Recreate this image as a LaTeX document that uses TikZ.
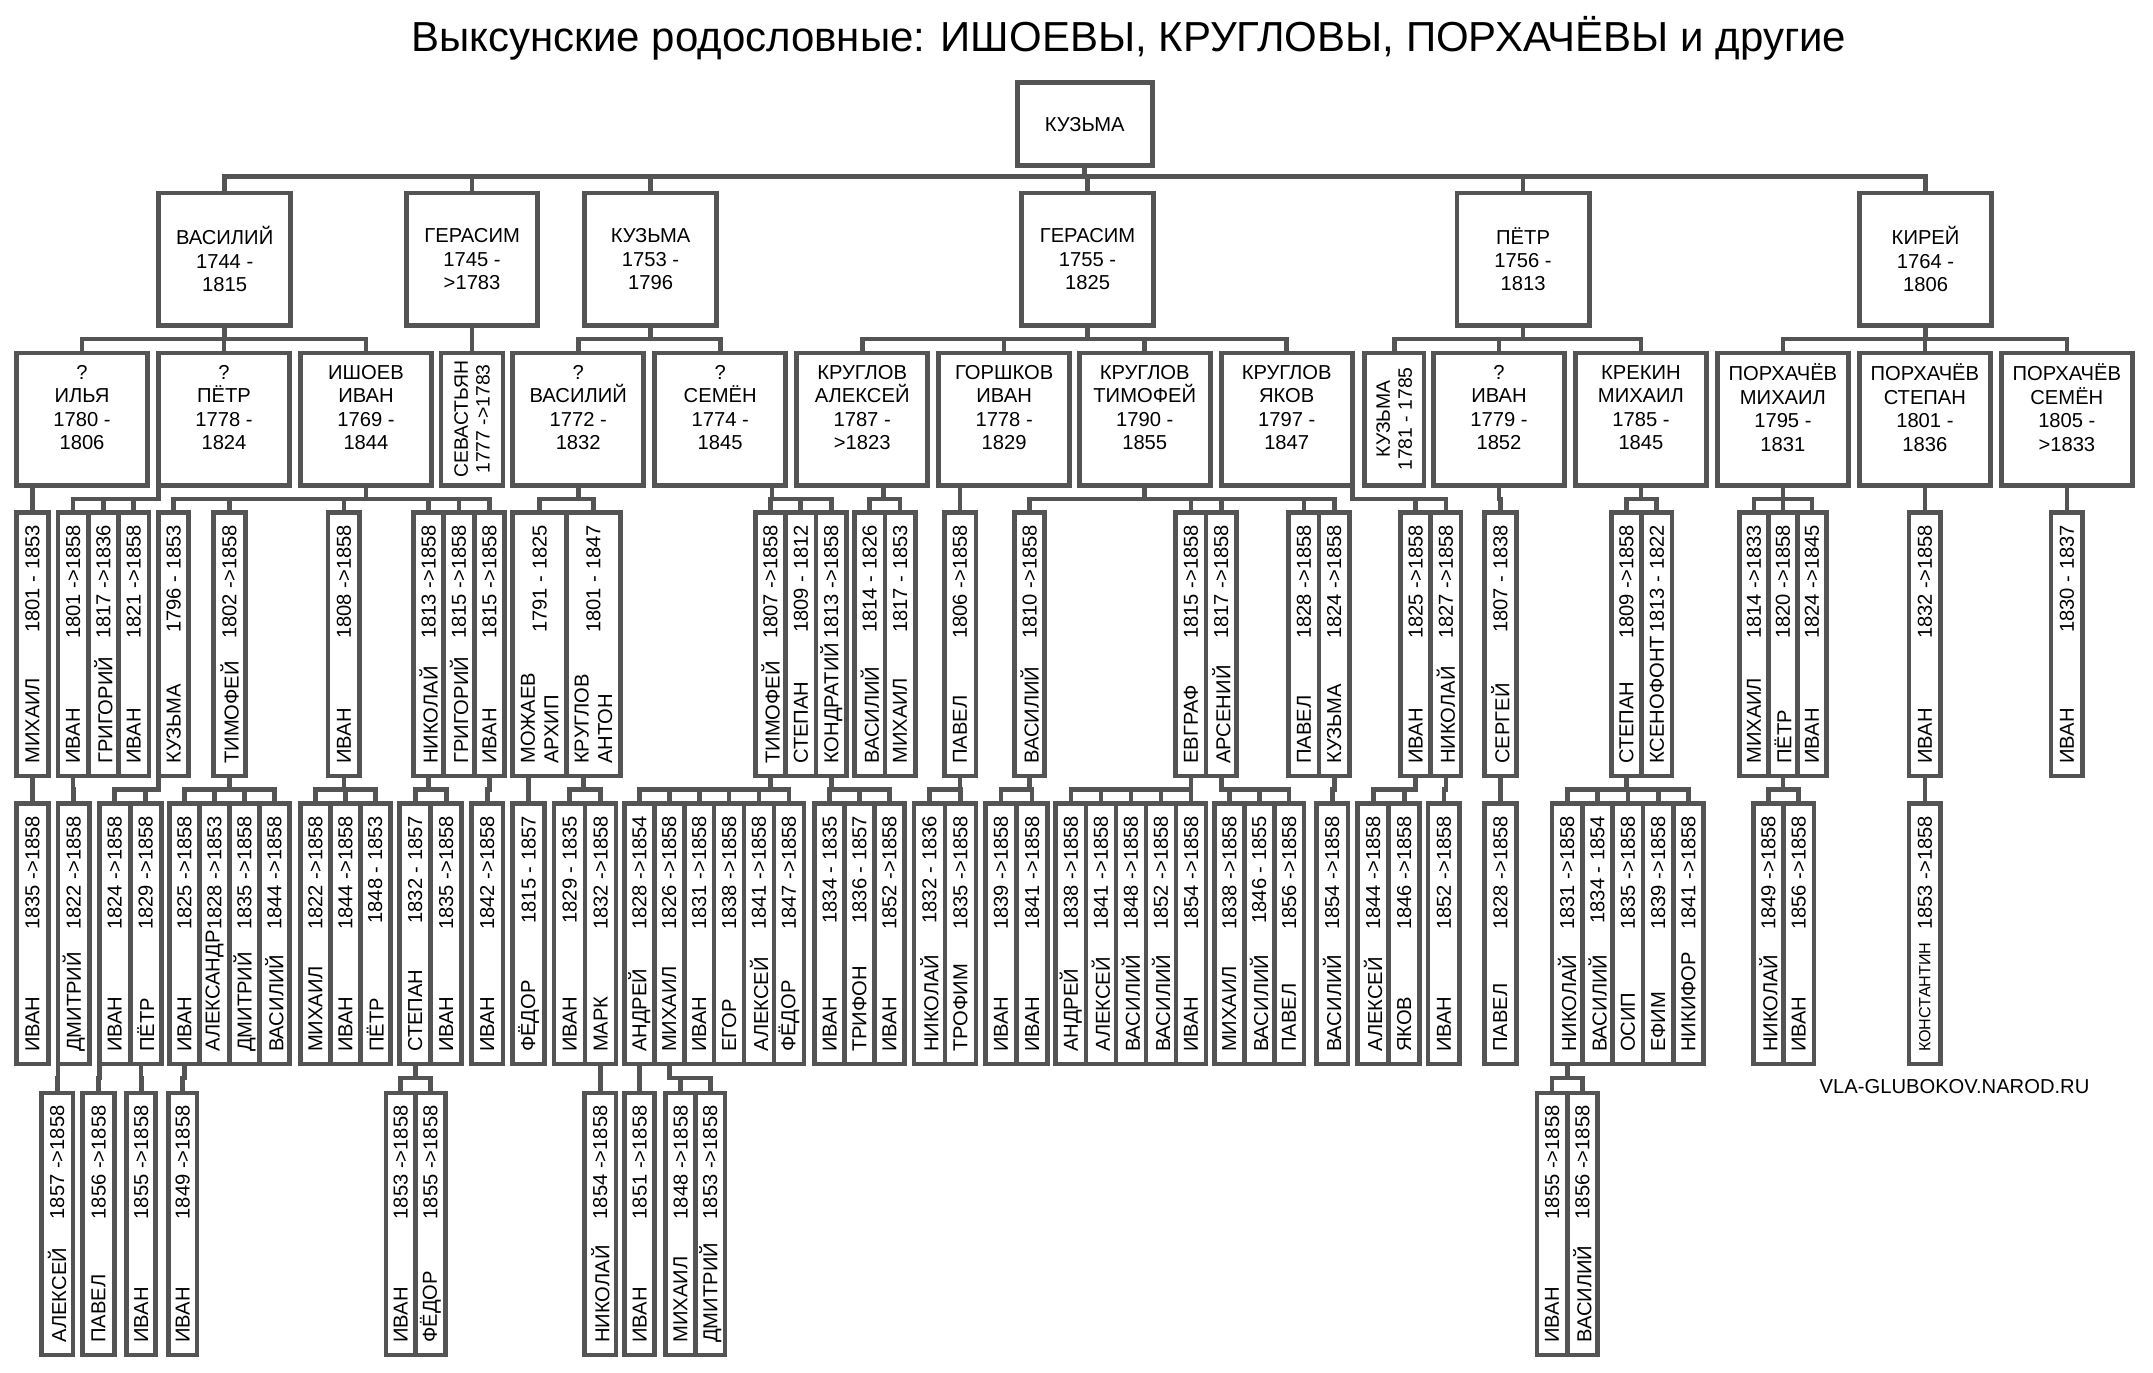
\documentclass[tikz,border=0pt]{standalone}
\usepackage{fontspec}
\setmainfont{Liberation Sans}
\definecolor{lc}{gray}{0.33}
\newcommand{\fs}{\fontsize{12.5}{14.5}\selectfont}

% one column of a generation: name, x, y, height style, width, label, dates
\newcommand{\col}[7]{%
  \node[cbox, #4, minimum width=#5*0.03cm, anchor=north west] (#1) at (#2,#3) {};
  \node[ctext, rotate=90, anchor=west] at ([yshift=0.26cm]#1.south) {#6};
  \node[ctext, rotate=90, anchor=east] at ([yshift=-0.26cm]#1.north) {#7};}
\newcommand{\grp}[6]{%
  \foreach \l/\d [count=\i] in {#6}{
    \pgfmathsetmacro{\xx}{#2+(\i-1)*#5}
    \col{#1\i}{\xx}{#3}{#4}{#5}{\l}{\d}}}
\newcommand{\pers}[7]{%
  \node[cbox, minimum width=#4*0.03cm, minimum height=#5*0.03cm, anchor=north west] (#1) at (#2,#3) {};
  \node[ctext, align=center] at ([yshift=#7]#1.center) {#6};}
\newcommand{\kids}[4]{%
  \foreach \c in {#4}{\draw[ln] (#1.south) ++(#2,0) -- ++(0,#3) -| (\c.north);}}

\tikzset{
  ln/.style={draw=lc, line width=2.9pt, line cap=rect},
  cbox/.style={draw=lc, line width=2.9pt, fill=white, inner sep=0pt, outer sep=0pt},
  ctext/.style={font=\fs, inner sep=0pt, align=left},
  L3/.style={minimum height=5.73cm},
  L4/.style={minimum height=5.67cm},
  L5/.style={minimum height=5.7cm}
}

\begin{document}
\begin{tikzpicture}[x=0.03cm, y=-0.03cm]
  \useasboundingbox (0,0) rectangle (1562,996);

  \node[font=\fontsize{26}{26}\selectfont] (title) at (819,28)
    {Выксунские родословные: ИШОЕВЫ, КРУГЛОВЫ, ПОРХАЧЁВЫ и другие};
  \node[font=\fontsize{12.5}{12.5}\selectfont] (site) at (1418,788) {VLA-GLUBOKOV.NAROD.RU};

  % root and first generations
  \pers{root}{738}{60}{98}{60}{КУЗЬМА}{0cm}
  \pers{gen1a}{115}{140}{96}{96}{ВАСИЛИЙ\\1744 -\\1815}{0cm}
  \pers{gen1b}{295}{140}{95}{96}{ГЕРАСИМ\\1745 -\\>1783}{0cm}
  \pers{gen1c}{424}{140}{96}{96}{КУЗЬМА\\1753 -\\1796}{0cm}
  \pers{gen1d}{741}{140}{96}{96}{ГЕРАСИМ\\1755 -\\1825}{0cm}
  \pers{gen1e}{1057}{140}{96}{96}{ПЁТР\\1756 -\\1813}{0cm}
  \pers{gen1f}{1349}{140}{96}{96}{КИРЕЙ\\1764 -\\1806}{0cm}

  \pers{gen2a}{12}{256}{95}{96}{?\\ИЛЬЯ\\1780 -\\1806}{0.25cm}
  \pers{gen2b}{115}{256}{95}{96}{?\\ПЁТР\\1778 -\\1824}{0.25cm}
  \pers{gen2c}{218}{256}{95}{96}{ИШОЕВ\\ИВАН\\1769 -\\1844}{0.25cm}
  \node[cbox, minimum width=45*0.03cm, minimum height=2.88cm, anchor=north west] (gen2d) at (320,256) {};
  \node[ctext, rotate=90, align=center, font=\fontsize{12}{13.5}\selectfont] at (gen2d) {СЕВАСТЬЯН\\1777 ->1783};
  \pers{gen2e}{372}{256}{95}{96}{?\\ВАСИЛИЙ\\1772 -\\1832}{0.25cm}
  \pers{gen2f}{475}{256}{95}{96}{?\\СЕМЁН\\1774 -\\1845}{0.25cm}
  \pers{gen2g}{578}{256}{95}{96}{КРУГЛОВ\\АЛЕКСЕЙ\\1787 -\\>1823}{0.25cm}
  \pers{gen2h}{681}{256}{95}{96}{ГОРШКОВ\\ИВАН\\1778 -\\1829}{0.25cm}
  \pers{gen2i}{783}{256}{95}{96}{КРУГЛОВ\\ТИМОФЕЙ\\1790 -\\1855}{0.25cm}
  \pers{gen2j}{886}{256}{95}{96}{КРУГЛОВ\\ЯКОВ\\1797 -\\1847}{0.25cm}
  \node[cbox, minimum width=43*0.03cm, minimum height=2.88cm, anchor=north west] (gen2k) at (990,256) {};
  \node[ctext, rotate=90, align=center, font=\fontsize{12}{13.5}\selectfont] at (gen2k) {КУЗЬМА\\1781 - 1785};
  \pers{gen2l}{1040}{256}{95}{96}{?\\ИВАН\\1779 -\\1852}{0.25cm}
  \pers{gen2m}{1143}{256}{95}{96}{КРЕКИН\\МИХАИЛ\\1785 -\\1845}{0.25cm}
  \pers{gen2n}{1246}{256}{95}{96}{ПОРХАЧЁВ\\МИХАИЛ\\1795 -\\1831}{0.25cm}
  \pers{gen2o}{1349}{256}{95}{96}{ПОРХАЧЁВ\\СТЕПАН\\1801 -\\1836}{0.25cm}
  \pers{gen2p}{1452}{256}{95}{96}{ПОРХАЧЁВ\\СЕМЁН\\1805 -\\>1833}{0.25cm}

  % third generation
  \grp{a}{12}{372}{L3}{23}{МИХАИЛ/1801 - 1853}
  \grp{b}{42}{372}{L3}{22}{ИВАН/1801 ->1858, ГРИГОРИЙ/1817 ->1836, ИВАН/1821 ->1858}
  \grp{c}{115}{372}{L3}{22}{КУЗЬМА/1796 - 1853}
  \grp{d}{155}{372}{L3}{23}{ТИМОФЕЙ/1802 ->1858}
  \grp{e}{238}{372}{L3}{23}{ИВАН/1808 ->1858}
  \grp{f}{300}{372}{L3}{22}{НИКОЛАЙ/1813 ->1858, ГРИГОРИЙ/1815 ->1858, ИВАН/1815 ->1858}
  \grp{g}{372}{372}{L3}{39}{{МОЖАЕВ\\АРХИП}/1791 - 1825, {КРУГЛОВ\\АНТОН}/1801 - 1847}
  \grp{h}{548}{372}{L3}{22}{ТИМОФЕЙ/1807 ->1858, СТЕПАН/1809 - 1812, КОНДРАТИЙ/1813 ->1858}
  \grp{i}{620}{372}{L3}{22}{ВАСИЛИЙ/1814 - 1826, МИХАИЛ/1817 - 1853}
  \grp{j}{685}{372}{L3}{23}{ПАВЕЛ/1806 ->1858}
  \grp{k}{736}{372}{L3}{22}{ВАСИЛИЙ/1810 ->1858}
  \grp{l}{853}{372}{L3}{22}{ЕВГРАФ/1815 ->1858, АРСЕНИЙ/1817 ->1858}
  \grp{m}{935}{372}{L3}{22}{ПАВЕЛ/1828 ->1858, КУЗЬМА/1824 ->1858}
  \grp{n}{1016}{372}{L3}{22}{ИВАН/1825 ->1858, НИКОЛАЙ/1827 ->1858}
  \grp{o}{1077}{372}{L3}{23}{СЕРГЕЙ/1807 - 1838}
  \grp{p}{1169}{372}{L3}{22}{СТЕПАН/1809 ->1858, КСЕНОФОНТ/1813 - 1822}
  \grp{q}{1262}{372}{L3}{21}{МИХАИЛ/1814 ->1833, ПЁТР/1820 ->1858, ИВАН/1824 ->1845}
  \grp{r}{1385}{372}{L3}{23}{ИВАН/1832 ->1858}
  \grp{s}{1488}{372}{L3}{23}{ИВАН/1830 - 1837}

  % fourth generation
  \grp{A}{12}{583}{L4}{23}{ИВАН/1835 ->1858}
  \grp{B}{42}{583}{L4}{23}{ДМИТРИЙ/1822 ->1858}
  \grp{C}{72}{583}{L4}{22.5}{ИВАН/1824 ->1858, ПЁТР/1829 ->1858}
  \grp{D}{123}{583}{L4}{21.75}{ИВАН/1825 ->1858, АЛЕКСАНДР/1828 ->1853, ДМИТРИЙ/1835 ->1858, ВАСИЛИЙ/1844 ->1858}
  \grp{E}{218}{583}{L4}{21.7}{МИХАИЛ/1822 ->1858, ИВАН/1844 ->1858, ПЁТР/1848 - 1853}
  \grp{F}{290}{583}{L4}{22.5}{СТЕПАН/1832 - 1857, ИВАН/1835 ->1858}
  \grp{G}{342}{583}{L4}{23}{ИВАН/1842 ->1858}
  \grp{H}{372}{583}{L4}{23}{ФЁДОР/1815 - 1857}
  \grp{I}{402}{583}{L4}{22.5}{ИВАН/1829 - 1835, МАРК/1832 ->1858}
  \grp{J}{453}{583}{L4}{21.7}{АНДРЕЙ/1828 ->1854, МИХАИЛ/1826 ->1858, ИВАН/1831 ->1858, ЕГОР/1838 ->1858, АЛЕКСЕЙ/1841 ->1858, ФЁДОР/1847 ->1858}
  \grp{K}{591}{583}{L4}{21.7}{ИВАН/1834 - 1835, ТРИФОН/1836 - 1857, ИВАН/1852 ->1858}
  \grp{L}{663}{583}{L4}{22.5}{НИКОЛАЙ/1832 - 1836, ТРОФИМ/1835 ->1858}
  \grp{M}{715}{583}{L4}{22.5}{ИВАН/1839 ->1858, ИВАН/1841 ->1858}
  \grp{N}{766}{583}{L4}{21.8}{АНДРЕЙ/1838 ->1858, АЛЕКСЕЙ/1841 ->1858, ВАСИЛИЙ/1848 ->1858, ВАСИЛИЙ/1852 ->1858, ИВАН/1854 ->1858}
  \grp{O}{881}{583}{L4}{21.7}{МИХАИЛ/1838 ->1858, ВАСИЛИЙ/1846 - 1855, ПАВЕЛ/1856 ->1858}
  \grp{P}{955}{583}{L4}{23}{ВАСИЛИЙ/1854 ->1858}
  \grp{Q}{985}{583}{L4}{22.5}{АЛЕКСЕЙ/1844 ->1858, ЯКОВ/1846 ->1858}
  \grp{R}{1036}{583}{L4}{23}{ИВАН/1852 ->1858}
  \grp{S}{1077}{583}{L4}{23}{ПАВЕЛ/1828 ->1858}
  \grp{T}{1126}{583}{L4}{22}{НИКОЛАЙ/1831 ->1858, ВАСИЛИЙ/1834 - 1854, ОСИП/1835 ->1858, ЕФИМ/1839 ->1858, НИКИФОР/1841 ->1858}
  \grp{U}{1272}{583}{L4}{22}{НИКОЛАЙ/1849 ->1858, ИВАН/1856 ->1858}
  \grp{V}{1385}{583}{L4}{23}{{\fontsize{10}{11}\selectfont КОНСТАНТИН}/1853 ->1858}

  % fifth generation
  \grp{va}{30}{793}{L5}{23}{АЛЕКСЕЙ/1857 ->1858}
  \grp{vb}{60}{793}{L5}{23}{ПАВЕЛ/1856 ->1858}
  \grp{vc}{92}{793}{L5}{21}{ИВАН/1855 ->1858}
  \grp{vd}{122}{793}{L5}{21}{ИВАН/1849 ->1858}
  \grp{ve}{280}{793}{L5}{21.5}{ИВАН/1853 ->1858, ФЁДОР/1855 ->1858}
  \grp{vf}{424}{793}{L5}{23}{НИКОЛАЙ/1854 ->1858}
  \grp{vg}{453}{793}{L5}{22}{ИВАН/1851 ->1858}
  \grp{vh}{483}{793}{L5}{21.5}{МИХАИЛ/1848 ->1858, ДМИТРИЙ/1853 ->1858}
  \grp{vi}{1115}{793}{L5}{22}{ИВАН/1855 ->1858, ВАСИЛИЙ/1856 ->1858}

  % connectors
  \kids{root}{0}{8}{gen1a,gen1b,gen1c,gen1d,gen1e,gen1f}
  \kids{gen1a}{0}{10}{gen2a,gen2b,gen2c}
  \kids{gen1b}{0}{10}{gen2d}
  \kids{gen1c}{0}{10}{gen2e,gen2f}
  \kids{gen1d}{0}{10}{gen2g,gen2h,gen2i,gen2j}
  \kids{gen1e}{0}{10}{gen2k,gen2l,gen2m}
  \kids{gen1f}{0}{10}{gen2n,gen2o,gen2p}

  \kids{gen2a}{-36}{10}{a1}
  \kids{gen2b}{-47.5}{10}{b1,b2,b3}
  \kids{gen2c}{0}{10}{c1,d1,e1,f1,f2,f3}
  \kids{gen2e}{0}{10}{g1,g2}
  \kids{gen2f}{37.5}{10}{h1,h2,h3}
  \kids{gen2g}{15.5}{10}{i1,i2}
  \kids{gen2h}{-32}{10}{j1}
  \kids{gen2i}{0}{10}{k1,l1,l2,m1,m2}
  \kids{gen2j}{47.5}{10}{n1,n2}
  \kids{gen2l}{0}{10}{o1}
  \kids{gen2m}{0}{10}{p1,p2}
  \kids{gen2n}{0}{10}{q1,q2,q3}
  \kids{gen2o}{0}{10}{r1}
  \kids{gen2p}{0}{10}{s1}

  \kids{a1}{0}{10}{A1}
  \kids{b1}{0}{10}{B1}
  \kids{c1}{-11}{10}{C1,C2}
  \kids{d1}{0}{10}{D1,D2,D3,D4}
  \kids{e1}{0}{10}{E1,E2,E3}
  \kids{f1}{0}{10}{F1,F2}
  \kids{f3}{0}{10}{G1}
  \kids{g1}{-8}{10}{H1}
  \kids{g2}{-7}{10}{I1,I2}
  \kids{h1}{0}{10}{J1,J2,J3,J4,J5,J6}
  \kids{h3}{0}{10}{K1,K2,K3}
  \kids{j1}{0}{10}{L1,L2}
  \kids{k1}{0}{10}{M1,M2}
  \kids{l1}{0}{10}{N1,N2,N3,N4,N5}
  \kids{l2}{0}{10}{O1,O2,O3}
  \kids{m2}{0}{10}{P1}
  \kids{n1}{0}{10}{Q1,Q2}
  \kids{n2}{0}{10}{R1}
  \kids{o1}{0}{10}{S1}
  \kids{p1}{0}{10}{T1,T2,T3,T4,T5}
  \kids{q2}{0}{10}{U1,U2}
  \kids{r1}{0}{10}{V1}

  \kids{B1}{-11.5}{10}{va1}
  \kids{C1}{-11}{10}{vb1}
  \kids{C2}{-3.5}{10}{vc1}
  \kids{D1}{0}{10}{vd1}
  \kids{F1}{0}{10}{ve1,ve2}
  \kids{I2}{0}{10}{vf1}
  \kids{J1}{0}{10}{vg1}
  \kids{J2}{0}{10}{vh1,vh2}
  \kids{T1}{0}{10}{vi1,vi2}
\end{tikzpicture}
\end{document}
